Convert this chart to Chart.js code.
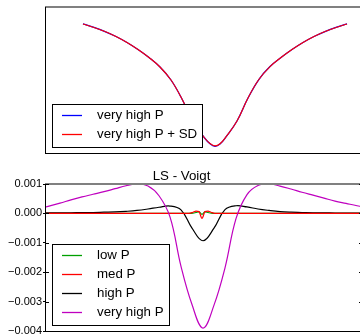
<!DOCTYPE html>
<html>
<head>
<meta charset="utf-8">
<script src="https://cdn.jsdelivr.net/npm/chart.js@4.4.1/dist/chart.umd.min.js"></script>
<style>
  html, body { margin: 0; padding: 0; width: 360px; height: 334px; overflow: hidden; background: #fff; }
  canvas { position: absolute; left: 0; }
  #profileChart { top: 0; }
  #residChart { top: 160px; }
</style>
</head>
<body>
<canvas id="profileChart" width="408" height="160"></canvas>
<canvas id="residChart" width="408" height="190"></canvas>
<script>
// top panel: line profile (offset from line centre, relative flux)
const profileX = [-132, -121, -110, -99, -88, -77, -66, -55, -44, -33, -22, -11, -5, 0, 5,
                  11, 22, 33, 44, 55, 66, 77, 88, 99, 110, 121, 132];
const veryHighP = [0.884, 0.860, 0.832, 0.798, 0.757, 0.709, 0.654, 0.589, 0.500, 0.370, 0.215, 0.108, 0.063, 0.046, 0.061,
                   0.110, 0.219, 0.377, 0.505, 0.592, 0.654, 0.709, 0.757, 0.798, 0.832, 0.860, 0.884];
const veryHighPSD = [0.884, 0.860, 0.832, 0.798, 0.757, 0.709, 0.654, 0.589, 0.500, 0.370, 0.215, 0.108, 0.065, 0.049, 0.063,
                     0.110, 0.219, 0.377, 0.505, 0.592, 0.654, 0.709, 0.757, 0.798, 0.832, 0.860, 0.884];

// bottom panel: LS - Voigt residuals
const residX = [-165, -154, -143, -132, -121, -110, -99, -88, -77, -66, -55, -44, -33, -22, -11, 0,
                11, 22, 33, 44, 55, 66, 77, 88, 99, 110, 121, 132, 143, 154, 165];
const highP = [0.00001, 0.00002, 0.00002, 0.00002, 0.00003, 0.00003, 0.00004, 0.00005, 0.00007, 0.0001, 0.00015,
               0.00021, 0.00025, 0.00012, -0.0005, -0.00093, -0.0005, 0.00013, 0.00026, 0.00022, 0.00015, 0.0001,
               0.00006, 0.00004, 0.00003, 0.00002, 0.00002, 0.00001, 0.00001, 0.00001, 0.00001];
const veryHighPRes = [0.00016, 0.00025, 0.00035, 0.00046, 0.00056, 0.00065, 0.00074, 0.00084, 0.00094, 0.001,
                      0.00093, 0.0006, -0.00012, -0.0018, -0.0031, -0.0039, -0.00312, -0.00185, -0.00018,
                      0.00064, 0.00095, 0.001, 0.00093, 0.00083, 0.00072, 0.00062, 0.00052, 0.00042, 0.00034,
                      0.00026, 0.00019];
const coreX = [-165, -14, -10, -7, -4, -1, 2, 5, 8, 12, 165];
const lowP = [0, 0, 0.00001, 0.00003, 0.00005, -0.00003, 0.00005, 0.00003, 0.00001, 0, 0];
const medP = [0, 0, 0.00004, 0.00008, 0.00006, -0.00017, 0.00006, 0.00008, 0.00004, 0, 0];

const yTicks = [0.001, 0, -0.001, -0.002, -0.003, -0.004];

Chart.defaults.font.family = '"Liberation Sans", Arial, sans-serif';
Chart.defaults.color = '#000';

const pts = (xs, ys) => xs.map((x, i) => ({ x: x, y: ys[i] }));

// spines like the original: grey top, black left and bottom, inward ticks
const frame = {
  id: 'frame',
  afterDatasetsDraw(chart, args, opts) {
    const ctx = chart.ctx, a = chart.chartArea;
    ctx.save();
    ctx.fillStyle = '#808080';
    ctx.fillRect(a.left, a.top - 1, a.right - a.left, 2);
    ctx.fillStyle = '#000';
    ctx.fillRect(a.left, a.top, 1, a.bottom - a.top + 1);
    ctx.fillRect(a.left, a.bottom, a.right - a.left, 1);
    if (opts.innerTicks) {
      const s = chart.scales.y;
      s.ticks.forEach(t => {
        const py = Math.round(s.getPixelForValue(t.value));
        ctx.fillRect(a.left, py, 4, 1);
        ctx.fillRect(a.right - 4, py, 4, 1);
      });
    }
    ctx.restore();
  }
};

// matplotlib style boxed legend at lower left of the axes
const boxLegend = {
  id: 'boxLegend',
  afterDatasetsDraw(chart, args, opts) {
    const ctx = chart.ctx, a = chart.chartArea;
    const sets = chart.data.datasets;
    ctx.save();
    ctx.font = '13.3px "Liberation Sans", Arial, sans-serif';
    const textW = Math.max(...sets.map(d => ctx.measureText(d.label).width));
    const w = Math.round(45 + textW + 5);
    const h = Math.round(23.5 + (sets.length - 1) * 19);
    const x0 = Math.round(a.left + 6.5);
    const y0 = Math.round(a.bottom - 6.5 - h);
    ctx.fillStyle = '#fff';
    ctx.fillRect(x0, y0, w, h);
    ctx.strokeStyle = '#000';
    ctx.lineWidth = 1;
    ctx.strokeRect(x0 + 0.5, y0 + 0.5, w, h);
    sets.forEach((d, i) => {
      const y = y0 + 11.5 + i * 19;
      ctx.strokeStyle = d.borderColor;
      ctx.lineWidth = 1.3;
      ctx.beginPath();
      ctx.moveTo(x0 + 10, y);
      ctx.lineTo(x0 + 30, y);
      ctx.stroke();
      ctx.fillStyle = '#000';
      ctx.textBaseline = 'middle';
      ctx.fillText(d.label, x0 + 45, y);
    });
    ctx.restore();
  }
};

const lineSet = (label, data, color, order, width, mono) => ({
  label: label,
  data: data,
  borderColor: color,
  borderWidth: width || 1.2,
  pointRadius: 0,
  fill: false,
  tension: 0.4,
  cubicInterpolationMode: mono ? 'monotone' : 'default',
  order: order
});

// 1. top panel
new Chart(document.getElementById('profileChart'), {
  type: 'line',
  data: {
    datasets: [
      lineSet('very high P', pts(profileX, veryHighP), '#0000ff', 1, 1.3),
      lineSet('very high P + SD', pts(profileX, veryHighPSD), '#ff0000', 0, 1.1)
    ]
  },
  options: {
    responsive: false,
    animation: false,
    events: [],
    layout: { padding: { left: 45, right: 45, top: 7, bottom: 7 } },
    scales: {
      x: { type: 'linear', display: false, min: -170, max: 148 },
      y: { display: false, min: 0, max: 1 }
    },
    plugins: {
      legend: { display: false },
      tooltip: { enabled: false },
      frame: {}
    }
  },
  plugins: [frame, boxLegend]
});

// 2. bottom panel
new Chart(document.getElementById('residChart'), {
  type: 'line',
  data: {
    datasets: [
      lineSet('low P', pts(coreX, lowP), '#00a000', 3, 1.2, true),
      lineSet('med P', pts(coreX, medP), '#ff0000', 1, 1.2, true),
      lineSet('high P', pts(residX, highP), '#000000', 2),
      lineSet('very high P', pts(residX, veryHighPRes), '#bf00bf', 0)
    ]
  },
  options: {
    responsive: false,
    animation: false,
    events: [],
    layout: { padding: { left: 0, right: 45, top: 0, bottom: 19 } },
    scales: {
      x: { type: 'linear', display: false, min: -158, max: 160 },
      y: {
        min: -0.004,
        max: 0.001,
        afterBuildTicks: s => { s.ticks = yTicks.map(v => ({ value: v })); },
        afterFit: s => { s.width = 45; s.paddingTop = 0; s.paddingBottom = 0; },
        ticks: {
          font: { size: 11 },
          color: '#000',
          padding: 1,
          callback: v => v.toFixed(3).replace('-', '\u2212')
        },
        grid: { drawOnChartArea: false, tickLength: 2, color: '#000' },
        border: { display: false }
      }
    },
    plugins: {
      legend: { display: false },
      tooltip: { enabled: false },
      title: {
        display: true,
        text: 'LS - Voigt',
        font: { size: 13.3, weight: 'normal', lineHeight: 1 },
        color: '#000',
        padding: { top: 9.4, bottom: 1.3 }
      },
      frame: { innerTicks: true }
    }
  },
  plugins: [frame, boxLegend]
});
</script>
</body>
</html>
